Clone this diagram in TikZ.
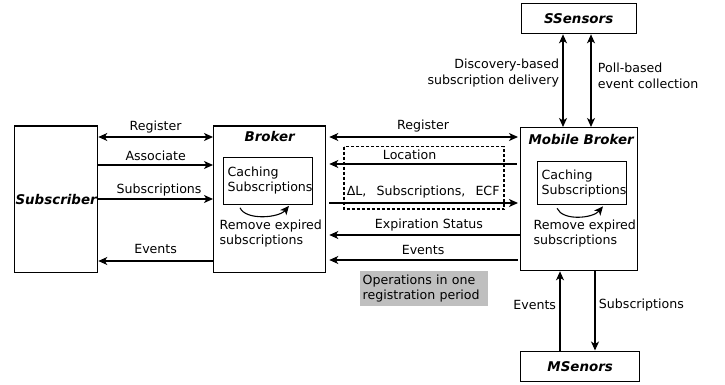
\documentclass[tikz,border=0pt]{standalone}
\usepackage{fontspec}
\setmainfont{DejaVu Sans}
\usetikzlibrary{arrows.meta,calc}

\begin{document}
\begin{tikzpicture}[
		x=1pt,y=-1pt,
		line width=1.3pt,
		>={Stealth[length=9pt,width=8pt,inset=2.5pt]},
		font=\fontsize{12.6}{15}\selectfont,
		block/.style={draw,anchor=north west,inner sep=0pt},
		title/.style={font=\fontsize{13.4}{15}\selectfont\bfseries\itshape},
		cache/.style={draw,anchor=north west,inner xsep=4pt,text width=81pt,align=left},
		note/.style={anchor=north west,inner sep=0pt,align=left},
		tall/.style={font=\fontsize{12.6}{16.5}\selectfont,align=left}
		]
		\useasboundingbox (0,0) rectangle (725,385);

		% main boxes
		\node[block,title,minimum width=83pt,minimum height=146pt] (subscriber) at (14,125.5) {Subscriber};
		\node[block,minimum width=112pt,minimum height=146pt,label={[title,anchor=north,yshift=-1.5pt]north:Broker}] (broker) at (213,125.5) {};
		\node[block,minimum width=117pt,minimum height=143pt,label={[title,anchor=north,yshift=-3pt,xshift=2pt]north:Mobile Broker}] (mobile broker) at (520,127) {};
		\node[block,title,minimum width=115pt,minimum height=30pt] (ssensors) at (520.5,3) {SSensors};
		\node[block,title,minimum width=119pt,minimum height=30pt] (msenors) at (520,350.5) {MSenors};

		% caches inside the brokers
		\node[cache,minimum width=89pt,minimum height=47pt] (broker cache) at (223,156.5) {Caching\\Subscriptions};
		\node[cache,minimum width=89pt,minimum height=43pt] (mobile cache) at (537,161) {Caching\\Subscriptions};
		\node[note] (broker remove) at (219,219) {Remove expired\\subscriptions};
		\node[note] (mobile remove) at (533,219) {Remove expired\\subscriptions};
		\draw[->,line width=1.1pt] ($(broker cache.south west)+(17,3)$) .. controls +(6,13) and +(-10,12) .. ($(broker cache.south west)+(66,1)$);
		\draw[->,line width=1.1pt] ($(mobile cache.south west)+(20,3)$) .. controls +(6,13) and +(-10,12) .. ($(mobile cache.south west)+(66,1)$);

		% subscriber <-> broker
		\draw[<->] (subscriber.east |- 0,137) -- node[above] {Register} (broker.west |- 0,137);
		\draw[->] (subscriber.east |- 0,165) -- node[above] {Associate} (broker.west |- 0,165);
		\draw[->] (subscriber.east |- 0,199) -- node[above,inner sep=2pt,pos=0.53] {Subscriptions} (broker.west |- 0,199);
		\draw[<-] (subscriber.east |- 0,261) -- node[above=3pt] {Events} (broker.west |- 0,261);

		% broker <-> mobile broker
		\draw[<->,shorten <=3pt,shorten >=2pt] (broker.east |- 0,137) -- node[above=1pt] {Register} (mobile broker.west |- 0,137);
		\draw[<-,shorten <=3pt,shorten >=3pt] (broker.east |- 0,164) -- node[above,pos=0.43] {Location} (mobile broker.west |- 0,164);
		\draw[->,shorten <=3pt,shorten >=2pt] (broker.east |- 0,203) -- node[above=0.5pt] {ΔL,\hspace{0.8em}Subscriptions,\hspace{0.8em}ECF} (mobile broker.west |- 0,203);
		\draw[<-,shorten <=3pt] (broker.east |- 0,235) -- node[above,pos=0.53] {Expiration Status} (mobile broker.west |- 0,235);
		\draw[<-,shorten <=3pt,shorten >=2pt] (broker.east |- 0,260) -- node[above=1pt] {Events} (mobile broker.west |- 0,260);
		\draw[dash pattern=on 3pt off 2pt,line width=1.2pt] (344,146.5) rectangle (504,209);
		\node[fill=gray!50,anchor=north west,minimum width=128pt,minimum height=35pt,text width=122pt,inner xsep=3pt,align=left] (period) at (359,270) {Operations in one\\registration period};

		% sensors
		\draw[<->] (ssensors.south -| 563,0) -- node[left,tall,align=right,pos=0.42] {Discovery-based\\subscription delivery} (mobile broker.north -| 563,0);
		\draw[<->] (ssensors.south -| 591,0) -- node[right=3pt,tall,pos=0.45] {Poll-based\\event collection} (mobile broker.north -| 591,0);
		\draw[->] (msenors.north -| 560,0) -- node[left,pos=0.57] {Events} (mobile broker.south -| 560,0);
		\draw[->] (mobile broker.south -| 595,0) -- node[right,pos=0.42] {Subscriptions} (msenors.north -| 595,0);

	\end{tikzpicture}
\end{document}
